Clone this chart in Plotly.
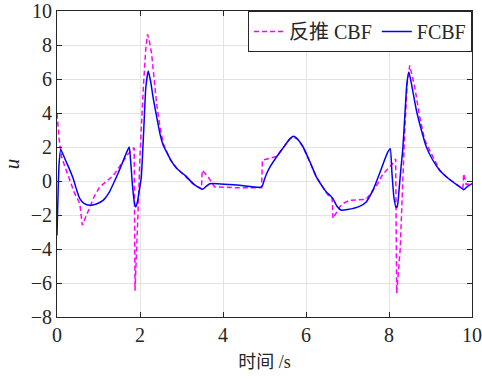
import plotly.graph_objects as go

# FCBF control input u(t)
fcbf_t = [0.0, 0.05, 0.09, 0.2, 0.3, 0.39, 0.47, 0.55, 0.65, 0.79, 0.95, 1.11, 1.25, 1.36,
          1.48, 1.6, 1.68, 1.74, 1.78, 1.82, 1.87, 1.9, 1.94, 1.98, 2.03, 2.09, 2.14, 2.2,
          2.26, 2.32, 2.4, 2.48, 2.56, 2.66, 2.76, 2.88, 3.1, 3.3, 3.51, 3.6, 3.68, 3.74,
          4.4, 4.93, 5.0, 5.05, 5.15, 5.29, 5.45, 5.6, 5.7, 5.8, 5.93, 6.1, 6.25, 6.4,
          6.49, 6.58, 6.65, 6.75, 6.85, 7.0, 7.29, 7.45, 7.61, 7.75, 7.89, 7.97, 8.03,
          8.07, 8.12, 8.17, 8.2, 8.25, 8.29, 8.33, 8.38, 8.43, 8.48, 8.55, 8.66, 8.78,
          8.9, 9.05, 9.22, 9.38, 9.54, 9.68, 9.8, 9.9, 10.0]
fcbf_u = [-3.2, 1.0, 1.86, 1.25, 0.7, 0.14, -0.5, -1.04, -1.32, -1.43, -1.35, -1.14, -0.7, -0.15,
          0.5, 1.22, 1.7, 2.0, 1.0, -0.3, -1.35, -1.53, -1.2, -0.6, 0.2, 3.0, 5.5, 6.47,
          5.8, 4.85, 3.8, 2.79, 2.1, 1.61, 1.15, 0.75, 0.3, -0.2, -0.49, -0.3, -0.16, -0.15,
          -0.25, -0.35, 0.1, 0.43, 0.9, 1.41, 1.95, 2.45, 2.63, 2.45, 2.0, 1.1, 0.24, -0.35,
          -0.65, -0.85, -1.04, -1.5, -1.72, -1.68, -1.49, -1.23, -0.55, 0.3, 1.22, 1.7, 1.9,
          0.5, -1.0, -1.55, -1.5, -0.3, 0.82, 1.8, 3.77, 5.7, 6.41, 5.6, 4.16, 3.0,
          2.0, 1.25, 0.63, 0.25, -0.06, -0.3, -0.51, -0.3, -0.15]

# Backstepping CBF control input u(t)
cbf_t = [0.0, 0.05, 0.11, 0.2, 0.31, 0.42, 0.55, 0.61, 0.7, 0.79, 0.9, 1.03, 1.2, 1.36,
         1.55, 1.72, 1.86, 1.88, 1.95, 2.0, 2.08, 2.14, 2.18, 2.22, 2.28, 2.34, 2.4, 2.48,
         2.56, 2.72, 2.9, 3.1, 3.3, 3.48, 3.5, 3.64, 3.8, 4.4, 4.93, 4.95, 5.15, 5.29,
         5.45, 5.6, 5.7, 5.8, 5.93, 6.1, 6.25, 6.4, 6.55, 6.63, 6.65, 6.81, 6.89, 7.05,
         7.45, 7.6, 7.73, 7.85, 8.01, 8.12, 8.16, 8.185, 8.27, 8.33, 8.38, 8.44, 8.5,
         8.62, 8.74, 8.86, 8.98, 9.1, 9.22, 9.38, 9.54, 9.68, 9.78, 9.8, 9.86, 10.0]
cbf_u = [3.96, 2.5, 1.41, 0.75, 0.04, -0.7, -1.33, -2.6, -2.1, -1.53, -0.9, -0.35, 0.0, 0.33,
         1.0, 1.61, 1.95, -6.45, -2.0, 1.5, 5.5, 7.8, 8.63, 8.3, 7.49, 6.0, 4.55, 3.2,
         2.2, 1.3, 0.7, 0.25, -0.2, -0.45, 0.63, 0.24, -0.35, -0.4, -0.4, 1.22, 1.35, 1.45,
         1.95, 2.45, 2.6, 2.45, 2.0, 1.1, 0.24, -0.35, -0.9, -1.0, -2.2, -1.53, -1.33, -1.13,
         -1.08, -0.6, -0.15, 0.4, 0.82, 1.1, 1.3, -6.6, -4.0, 0.0, 3.0, 5.8, 6.8,
         5.53, 3.77, 2.4, 1.8, 1.2, 0.63, 0.25, -0.06, -0.3, -0.45, 0.43, -0.2, -0.15]

x_ticks = [0, 2, 4, 6, 8, 10]
y_ticks = [-8, -6, -4, -2, 0, 2, 4, 6, 8, 10]

serif = "Liberation Serif"
mixed = "Liberation Serif, Noto Sans CJK SC"
ink = "#262626"

fig = go.Figure()
fig.add_trace(go.Scatter(
    x=cbf_t, y=cbf_u, mode="lines", name="反推 CBF",
    line=dict(color="#ff00ff", width=1.5, dash="5px,3px"),
))
fig.add_trace(go.Scatter(
    x=fcbf_t, y=fcbf_u, mode="lines", name="FCBF",
    line=dict(color="#0000ff", width=1.5, shape="spline", smoothing=0.5),
))

axis_common = dict(
    showline=True, linecolor=ink, linewidth=1, mirror="ticks",
    ticks="inside", ticklen=5, tickcolor=ink,
    showgrid=True, gridcolor="#e3e3e3", gridwidth=1, zeroline=False,
    tickfont=dict(family=serif, size=20, color=ink),
    automargin=False,
)

fig.update_xaxes(
    range=[0, 10], tickvals=x_ticks,
    title=dict(text="时间 /s", font=dict(family=mixed, size=18, color=ink), standoff=10),
    **axis_common,
)
fig.update_yaxes(
    range=[-8, 10], tickvals=y_ticks,
    title=dict(text="<i>u</i>", font=dict(family=serif, size=21, color=ink), standoff=6),
    **axis_common,
)

fig.update_layout(
    width=482, height=381,
    margin=dict(l=57, r=10, t=11, b=64),
    plot_bgcolor="white", paper_bgcolor="white",
    font=dict(family=mixed, color=ink),
    legend=dict(
        x=1, y=1, xanchor="right", yanchor="top", orientation="h",
        bgcolor="white", bordercolor=ink, borderwidth=1,
        font=dict(family=mixed, size=20, color=ink),
        itemwidth=30, tracegroupgap=0,
    ),
)

fig.write_html("out.html")
